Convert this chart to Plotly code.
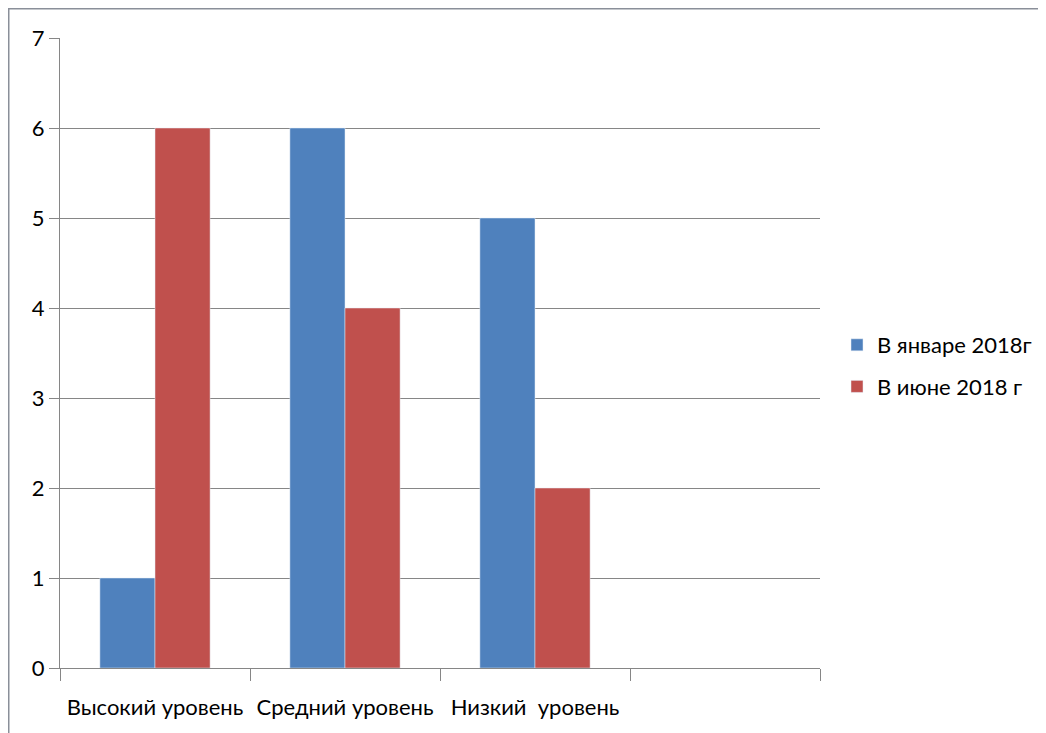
import plotly.graph_objects as go

categories = ["Высокий уровень", "Средний уровень", "Низкий\u00a0\u00a0уровень", "\u00a0"]
jan_2018 = [1, 6, 5, None]
jun_2018 = [6, 4, 2, None]
series_names = ["В январе 2018г", "В июне 2018 г"]

FONT = "Lato, Open Sans, sans-serif"

fig = go.Figure()
fig.add_trace(go.Bar(x=categories, y=jan_2018, name=series_names[0], marker_color="#4F81BD",
                     legendgroup="a"))
fig.add_trace(go.Bar(x=categories, y=jun_2018, name=series_names[1], marker_color="#C0504D",
                     legendgroup="b"))

# figure coords (page coords minus 8px body margin)
W, H = 1046, 733
L, R, T, B = 52, 812, 30, 660
pw, ph = R - L, B - T

fig.update_layout(
    width=W, height=H,
    margin=dict(l=L, r=W - R, t=T, b=H - B, pad=0),
    paper_bgcolor="white", plot_bgcolor="white",
    barmode="group", bargap=0.42, bargroupgap=0,
    font=dict(family=FONT, size=22, color="black"),
    showlegend=True,
    legend=dict(x=(829 - L) / pw, y=(B - 358) / ph, xanchor="left", yanchor="middle",
                font=dict(family=FONT, size=22, color="black"), tracegroupgap=10, itemwidth=30),
    xaxis=dict(type="category", tickson="boundaries", ticks="outside", ticklen=12,
               tickcolor="#868686", showline=True, linecolor="#868686", linewidth=1,
               showgrid=False, ticklabelstandoff=20,
               tickfont=dict(family=FONT, size=22, color="black")),
    yaxis=dict(range=[0, 7], dtick=1, ticks="outside", ticklen=10, tickcolor="#868686",
               showline=True, linecolor="#868686", linewidth=1,
               showgrid=True, gridcolor="#868686", gridwidth=1, zeroline=False,
               tickfont=dict(family=FONT, size=22, color="black")),
    shapes=[dict(type="rect", xref="paper", yref="paper",
                 x0=(0.75 - L) / pw, x1=(1070 - L) / pw,
                 y0=(B - 760) / ph, y1=(B - 0.75) / ph,
                 line=dict(color="#8a8f99", width=1.5), fillcolor="rgba(0,0,0,0)", layer="below")],
)

fig.write_html("out.html")
